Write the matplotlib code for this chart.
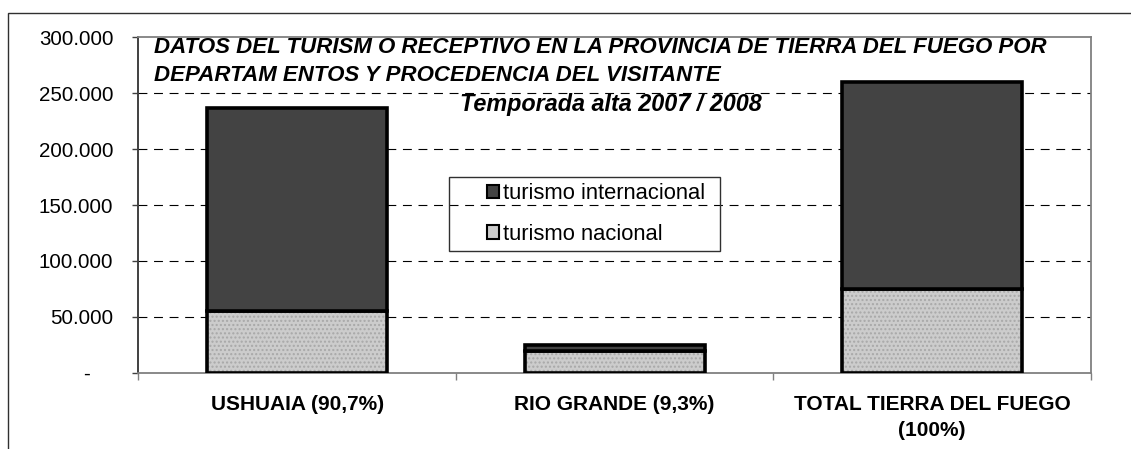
import matplotlib.pyplot as plt
import matplotlib.patches as mpatches
import numpy as np

plt.rcParams["font.family"] = ["Liberation Sans", "DejaVu Sans"]

# data
categorias = ["USHUAIA (90,7%)", "RIO GRANDE (9,3%)", "TOTAL TIERRA DEL FUEGO\n(100%)"]
nacional = [54800, 19700, 74800]
internacional = [182300, 4700, 185000]
yticks = [0, 50000, 100000, 150000, 200000, 250000, 300000]
ytick_labels = ["-    ", "50.000", "100.000", "150.000", "200.000", "250.000", "300.000"]
serie_labels = ["turismo internacional", "turismo nacional"]
titulo_l1 = "DATOS DEL TURISM O RECEPTIVO EN LA PROVINCIA DE TIERRA DEL FUEGO POR"
titulo_l2 = "DEPARTAM ENTOS Y PROCEDENCIA DEL VISITANTE"
titulo2 = "Temporada alta 2007 / 2008"

W, H = 1131, 449
fig = plt.figure(figsize=(W / 100, H / 100), dpi=100)
ax = fig.add_axes([138.3 / W, 1 - 372.7 / H, (1091 - 138.3) / W, (372.7 - 37.4) / H])

x = np.arange(len(categorias)) + 0.5
bw = 0.566
c_int = "#434343"
c_nac = "#cccccc"

# gridlines
for yv in yticks[1:-1]:
    ax.axhline(yv, color="black", lw=0.8, dashes=(8, 6), zorder=1)

# nacional: pattern then outline
ax.bar(x, nacional, bw, color=c_nac, hatch="....", edgecolor="#a8a8a8", linewidth=0, zorder=2)
ax.bar(x, nacional, bw, fill=False, edgecolor="black", linewidth=2.6, zorder=3)
ax.bar(x, internacional, bw, bottom=nacional, color=c_int, edgecolor="black", linewidth=2.6, zorder=3)

ax.set_xlim(0, 3)
ax.set_ylim(0, 300000)

# spines
ax.spines["left"].set_color("#404040")
ax.spines["left"].set_linewidth(1.4)
for s in ["top", "right", "bottom"]:
    ax.spines[s].set_color("#808080")
    ax.spines[s].set_linewidth(1.3)

ax.set_yticks(yticks)
ax.set_yticklabels(ytick_labels, fontsize=14.8)
ax.tick_params(axis="y", length=4, width=1, color="#404040", pad=14)

ax.set_xticks(x)
ax.set_xticklabels(categorias, fontsize=15, fontweight="bold", linespacing=1.45)
ax.tick_params(axis="x", which="major", length=0, pad=16)
ax.set_xticks([0, 1, 2, 3], minor=True)
ax.tick_params(axis="x", which="minor", length=5, width=1, color="#808080")

# title texts
fig.text(154 / W, 1 - 53 / H, titulo_l1, fontsize=16, fontweight="bold", fontstyle="italic",
         ha="left", va="baseline")
fig.text(154 / W, 1 - 81 / H, titulo_l2, fontsize=16, fontweight="bold", fontstyle="italic",
         ha="left", va="baseline")
fig.text(611 / W, 1 - 110.5 / H, titulo2, fontsize=16.8, fontweight="bold", fontstyle="italic",
         ha="center", va="baseline")

# legend
h_int = mpatches.Patch(facecolor=c_int, edgecolor="black", linewidth=1.5)
h_nac = mpatches.Patch(facecolor=c_nac, edgecolor="black", linewidth=1.5)
leg = fig.legend([h_int, h_nac], serie_labels, loc="upper left",
                 bbox_to_anchor=(487 / W, 1 - 183 / H), frameon=False, fontsize=15.8,
                 handlelength=0.55, handleheight=0.55, handletextpad=0.2, labelspacing=0.9,
                 borderpad=0, borderaxespad=0)
fig.add_artist(mpatches.Rectangle((449.3 / W, 1 - 251 / H), (720 - 449.3) / W, (251 - 177.3) / H,
                                  transform=fig.transFigure, fill=False, edgecolor="#303030", lw=1))

# outer frame
fig.add_artist(mpatches.Rectangle((8.3 / W, -0.1), 1.2, 1 - 13.3 / H + 0.1,
                                  transform=fig.transFigure, fill=False, edgecolor="#303030", lw=1))

fig.savefig("out.png", dpi=100)
